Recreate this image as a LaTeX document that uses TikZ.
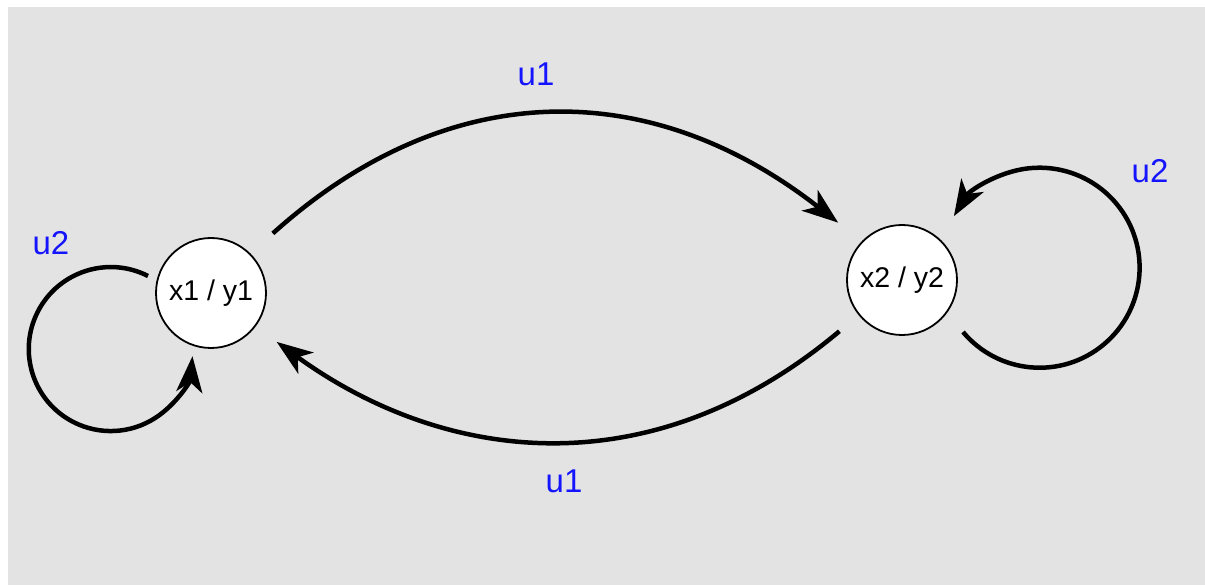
\documentclass[tikz,border=0pt]{standalone}
\usepackage{fontspec}
\setmainfont{Liberation Sans}
\usetikzlibrary{arrows.meta}
\definecolor{bg}{HTML}{E3E3E3}
\definecolor{lbl}{RGB}{20,20,255}
\begin{document}
\begin{tikzpicture}[x=1pt,y=1pt,
  state/.style={circle, draw, line width=1.8pt, fill=white, minimum size=110pt, inner sep=0pt, font=\fontsize{28.5}{28.5}\selectfont},
  edgeline/.style={line width=4.5pt, -{Stealth[length=36pt,width=26pt,inset=10pt]}},
  lab/.style={text=lbl, font=\fontsize{33}{33}\selectfont, inner sep=0pt}]
\useasboundingbox (0,0) rectangle (1205,-585);
\fill[bg] (8,-7) rectangle (1205,-585);
\node[state] (n1) at (211,-293) {x1 / y1};
\node[state] (n2) at (902,-280) {x2 / y2};
\draw[edgeline, shorten <=30pt, shorten >=30pt] (n1.45) .. controls (449,-75) and (651,-76) .. (n2.136);
\draw[edgeline, shorten <=25pt, shorten >=26pt] (n2.219) .. controls (649,-491) and (442,-462) .. (n1.-37);
\draw[edgeline] (n1.center) ++(-63,17) arc[start angle=63, end angle=355, radius=82];
\draw[edgeline] (n2.center) ++(61,-52) arc[start angle=220, end angle=509, radius=100];
\node[lab] (lt) at (536,-74) {u1};
\node[lab] (lb) at (564,-481) {u1};
\node[lab] (lr) at (1150,-171) {u2};
\node[lab] (ll) at (51,-243) {u2};
\end{tikzpicture}
\end{document}
